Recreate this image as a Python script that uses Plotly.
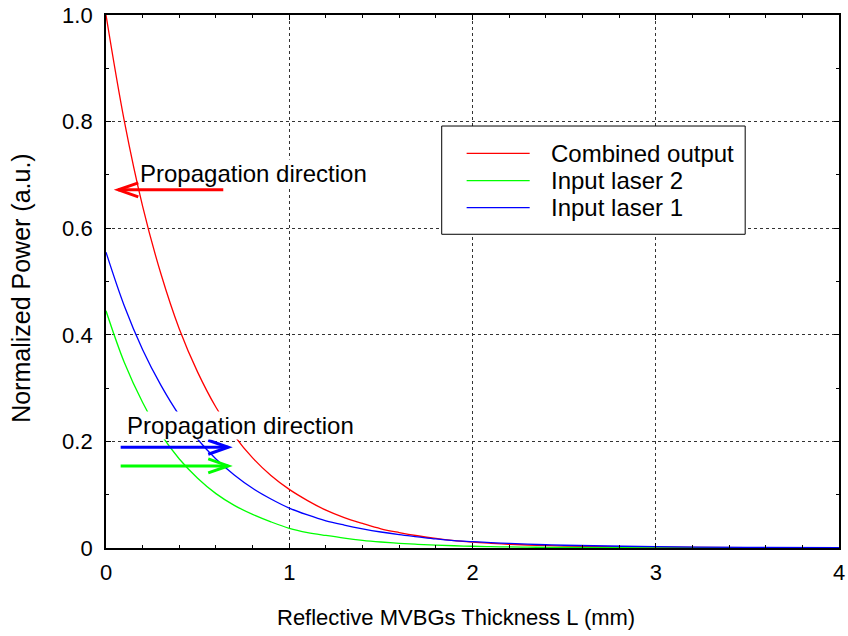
import plotly.graph_objects as go

# Reflective MVBG thickness (mm) and normalized powers
thickness_mm = [0, 0.1, 0.2, 0.3, 0.4, 0.5, 0.6, 0.7, 0.8, 0.9, 1.0,
                1.1, 1.2, 1.3, 1.4, 1.5, 1.6, 1.7, 1.8, 1.9, 2.0,
                2.1, 2.2, 2.3, 2.4, 2.5, 3.0, 3.5, 4.0]
combined_output = [1.000, 0.801, 0.641, 0.514, 0.411, 0.330, 0.264, 0.211, 0.169, 0.136, 0.110,
                   0.089, 0.071, 0.057, 0.046, 0.036, 0.029, 0.023, 0.018, 0.014, 0.011,
                   0.0088, 0.0070, 0.0056, 0.0045, 0.0036, 0.0015, 0.0006, 0.0003]
input_laser_2 = [0.445, 0.348, 0.273, 0.213, 0.167, 0.131, 0.102, 0.080, 0.063, 0.049, 0.037,
                 0.029, 0.0235, 0.0185, 0.0144, 0.0113, 0.0088, 0.0069, 0.0054, 0.0042, 0.0033,
                 0.0026, 0.0020, 0.0016, 0.0012, 0.0010, 0.0003, 0.0001, 0.00003]
input_laser_1 = [0.555, 0.454, 0.372, 0.305, 0.249, 0.204, 0.167, 0.137, 0.112, 0.092, 0.075,
                 0.062, 0.051, 0.043, 0.036, 0.030, 0.025, 0.021, 0.017, 0.014, 0.012,
                 0.0100, 0.0085, 0.0072, 0.0061, 0.0052, 0.0025, 0.0012, 0.0006]

series_names = ["Combined output", "Input laser 2", "Input laser 1"]
series_values = [combined_output, input_laser_2, input_laser_1]
series_colors = ["#ff0000", "#00ff00", "#0000ff"]

x_tick_vals = [0, 1, 2, 3, 4]
x_tick_text = ["0", "1", "2", "3", "4"]
y_tick_vals = [0, 0.2, 0.4, 0.6, 0.8, 1.0]
y_tick_text = ["0", "0.2", "0.4", "0.6", "0.8", "1.0"]

x_title = "Reflective MVBGs Thickness L (mm)"
y_title = "Normalized Power (a.u.)"

# Propagation-direction arrows: (tail x, tip x, y, colour)
arrows = [(0.64, 0.067, 0.672, "#ff0000"),
          (0.08, 0.667, 0.189, "#0000ff"),
          (0.08, 0.667, 0.154, "#00ff00")]

FONT = "Liberation Sans, Arial, Helvetica, sans-serif"

fig = go.Figure()
for name, vals, col in zip(series_names, series_values, series_colors):
    fig.add_trace(go.Scatter(x=thickness_mm, y=vals, mode="lines", name=name,
                             line=dict(color=col, width=1.3, shape="spline", smoothing=1.0),
                             showlegend=False))

shapes = []
for tail, tip, yv, col in arrows:
    shapes.append(dict(type="line", xref="x", yref="y", x0=tail, x1=tip, y0=yv, y1=yv,
                       line=dict(color=col, width=3), layer="above"))
    d = 1 if tip > tail else -1
    shapes.append(dict(type="path", xref="x", yref="y", xsizemode="pixel", ysizemode="pixel",
                       xanchor=tip, yanchor=yv,
                       path=f"M {-20*d},7 L 0,0 L {-20*d},-7",
                       line=dict(color=col, width=3), layer="above"))

# Legend box drawn in plot-fraction coordinates
lx0, lx1, ly0, ly1 = 0.458, 0.872, 0.5886, 0.7917
shapes.append(dict(type="rect", xref="paper", yref="paper", x0=lx0, x1=lx1, y0=ly0, y1=ly1,
                   line=dict(color="black", width=1), fillcolor="white", layer="above"))
annotations = []
row_y = [0.7405, 0.6891, 0.6385]
for name, col, ry in zip(series_names, series_colors, row_y):
    shapes.append(dict(type="line", xref="paper", yref="paper", x0=0.492, x1=0.578, y0=ry, y1=ry,
                       line=dict(color=col, width=1.3), layer="above"))
    annotations.append(dict(xref="paper", yref="paper", x=0.605, y=ry, text=name, showarrow=False,
                            xanchor="left", yanchor="middle",
                            font=dict(family=FONT, size=24, color="black")))

for tx, ty in [(0.18, 0.702), (0.107, 0.229)]:
    annotations.append(dict(xref="x", yref="y", x=tx, y=ty, text="Propagation direction",
                            showarrow=False, xanchor="left", yanchor="middle",
                            bgcolor="white", borderpad=0,
                            font=dict(family=FONT, size=24, color="black")))

# Axis titles
annotations.append(dict(xref="paper", yref="paper", x=0.4775, y=-0.131, text=x_title,
                        showarrow=False, xanchor="center", yanchor="middle",
                        font=dict(family=FONT, size=22, color="black")))
annotations.append(dict(xref="paper", yref="paper", x=-0.116, y=0.488, text=y_title,
                        showarrow=False, xanchor="center", yanchor="middle", textangle=-90,
                        font=dict(family=FONT, size=25, color="black")))

axis_common = dict(showline=True, linecolor="black", linewidth=1.8, mirror="allticks",
                   ticks="inside", ticklen=5, tickcolor="black", tickwidth=1,
                   showgrid=True, gridcolor="#333333", gridwidth=1, griddash="3px,3px",
                   zeroline=False, automargin=False,
                   tickfont=dict(family=FONT, size=22, color="black"))

fig.update_layout(
    width=848, height=636,
    margin=dict(l=106, r=9, t=15, b=88),
    paper_bgcolor="white", plot_bgcolor="white",
    font=dict(family=FONT, color="black"),
    xaxis=dict(range=[0, 4], tickvals=x_tick_vals, ticktext=x_tick_text,
               minor=dict(dtick=0.2, ticks="inside", ticklen=3, tickcolor="black", showgrid=False),
               ticklabelstandoff=4, **axis_common),
    yaxis=dict(range=[0, 1], tickvals=y_tick_vals, ticktext=y_tick_text,
               minor=dict(dtick=0.1, ticks="inside", ticklen=3, tickcolor="black", showgrid=False),
               ticklabelstandoff=7, **axis_common),
    shapes=shapes,
    annotations=annotations,
)

fig.write_html("out.html")
